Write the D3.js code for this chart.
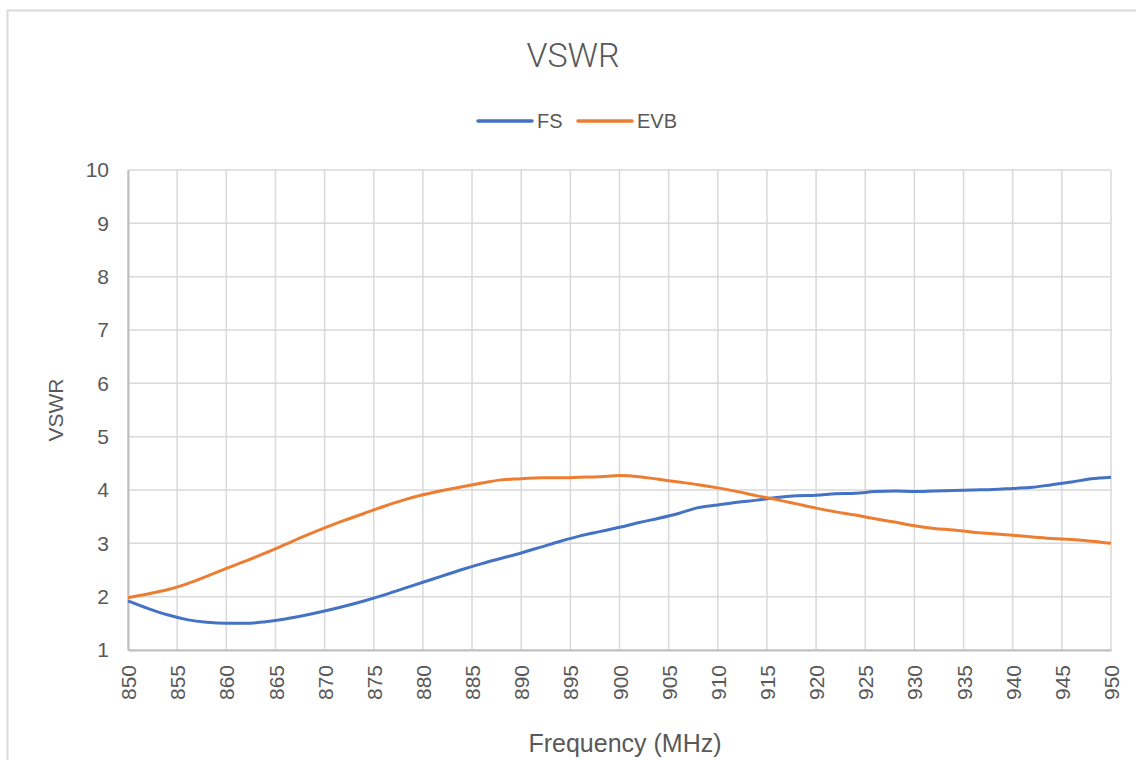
<!DOCTYPE html>
<html>
<head>
<meta charset="utf-8">
<script src="https://cdn.jsdelivr.net/npm/d3@7"></script>
<style>
    body { margin: 0; background: #fff; overflow: hidden; }
    svg { display: block; }
    text { font-family: "Liberation Sans", Arial, sans-serif; fill: #595959; }
    text.light { font-family: Roboto, "Liberation Sans", sans-serif; font-weight: 300; }
</style>
</head>
<body>
<div id="chart"></div>
<script>
//frequency points (MHz)
const freqs = d3.range(850, 951, 2);

//series values
const fsValues = [
    1.92, 1.78, 1.66, 1.57, 1.52, 1.50, 1.50, 1.53, 1.58, 1.65,
    1.73, 1.82, 1.92, 2.03, 2.15, 2.27, 2.39, 2.51, 2.62, 2.72,
    2.82, 2.93, 3.04, 3.14, 3.22, 3.30, 3.39, 3.47, 3.56, 3.67,
    3.72, 3.77, 3.81, 3.86, 3.89, 3.90, 3.93, 3.94, 3.97, 3.98,
    3.97, 3.98, 3.99, 4.00, 4.01, 4.03, 4.05, 4.10, 4.15, 4.21,
    4.24
];
const evbValues = [
    1.98, 2.05, 2.13, 2.24, 2.38, 2.53, 2.67, 2.82, 2.98, 3.14,
    3.29, 3.43, 3.56, 3.69, 3.81, 3.91, 3.99, 4.06, 4.13, 4.19,
    4.21, 4.23, 4.23, 4.24, 4.25, 4.27, 4.25, 4.20, 4.15, 4.10,
    4.04, 3.97, 3.89, 3.82, 3.74, 3.66, 3.59, 3.53, 3.46, 3.40,
    3.33, 3.28, 3.25, 3.21, 3.18, 3.15, 3.12, 3.09, 3.07, 3.04,
    3.00
];

const seriesNames = ["FS", "EVB"];
const seriesColors = ["#4472C4", "#ED7D31"];
const xTicks = d3.range(850, 951, 5);
const yTicks = d3.range(1, 11, 1);

//svg size
const width = 1136;
const height = 760;
const margin = { top: 170, left: 128 };

const svg = d3.select("#chart")
    .append("svg")
    .attr("width", width)
    .attr("height", height);

//chart area border (right and bottom edges fall outside the picture)
svg.append("path")
    .attr("d", `M7.5,${height}V10.5H${width}`)
    .attr("fill", "none")
    .attr("stroke", "#d9d9d9")
    .attr("stroke-width", 2);

const x = d3.scaleLinear().domain([850, 950]).range([0, 983]);
const y = d3.scaleLinear().domain([1, 10]).range([480, 0]);

const g = svg.append("g").attr("transform", `translate(${margin.left},${margin.top})`);

//gridlines
g.append("g")
    .selectAll("line.h")
    .data(yTicks)
    .join("line")
    .attr("class", "h")
    .attr("x1", 0)
    .attr("x2", x(950))
    .attr("y1", (d) => y(d))
    .attr("y2", (d) => y(d))
    .attr("stroke", "#d9d9d9")
    .attr("stroke-width", 1.5);

g.append("g")
    .selectAll("line.v")
    .data(xTicks)
    .join("line")
    .attr("class", "v")
    .attr("x1", (d) => x(d))
    .attr("x2", (d) => x(d))
    .attr("y1", y(10))
    .attr("y2", y(1))
    .attr("stroke", "#d9d9d9")
    .attr("stroke-width", 1.5);

//axes
const xAxis = g.append("g")
    .attr("transform", `translate(0,${y(1)})`)
    .call(d3.axisBottom(x).tickValues(xTicks).tickSize(0).tickFormat(d3.format("d")));
xAxis.select(".domain").attr("stroke", "#bfbfbf").attr("stroke-width", 2);
xAxis.selectAll("text")
    .attr("font-size", 21)
    .attr("text-anchor", "end")
    .attr("transform", "translate(0,15) rotate(-90)")
    .attr("x", 0)
    .attr("y", 0)
    .attr("dy", "0.36em");

const yAxis = g.append("g")
    .call(d3.axisLeft(y).tickValues(yTicks).tickSize(0).tickPadding(19));
yAxis.select(".domain").attr("stroke", "#bfbfbf").attr("stroke-width", 2);
yAxis.selectAll("text").attr("font-size", 21);

//lines
const line = d3.line()
    .x((d) => x(d[0]))
    .y((d) => y(d[1]))
    .curve(d3.curveMonotoneX);

[fsValues, evbValues].forEach((values, i) => {
    g.append("path")
        .datum(freqs.map((f, j) => [f, values[j]]))
        .attr("fill", "none")
        .attr("stroke", seriesColors[i])
        .attr("stroke-width", 3)
        .attr("stroke-linejoin", "round")
        .attr("d", line);
});

//title
svg.append("text")
    .attr("class", "light")
    .attr("x", 573)
    .attr("y", 67)
    .attr("text-anchor", "middle")
    .attr("font-size", 34)
    .text("VSWR");

//legend
const legendItems = [
    { x: 478, name: seriesNames[0], color: seriesColors[0] },
    { x: 578, name: seriesNames[1], color: seriesColors[1] },
];
const legend = svg.append("g")
    .selectAll("g")
    .data(legendItems)
    .join("g")
    .attr("transform", (d) => `translate(${d.x},121)`);
legend.append("line")
    .attr("x1", 0)
    .attr("x2", 54)
    .attr("stroke", (d) => d.color)
    .attr("stroke-width", 3.5)
    .attr("stroke-linecap", "round");
legend.append("text")
    .attr("x", 59)
    .attr("dy", "0.36em")
    .attr("font-size", 20)
    .text((d) => d.name);

//axis titles
svg.append("text")
    .attr("x", 625)
    .attr("y", 752)
    .attr("text-anchor", "middle")
    .attr("font-size", 25)
    .text("Frequency (MHz)");

svg.append("text")
    .attr("transform", "translate(63,410) rotate(-90)")
    .attr("text-anchor", "middle")
    .attr("font-size", 21)
    .text("VSWR");
</script>
</body>
</html>
